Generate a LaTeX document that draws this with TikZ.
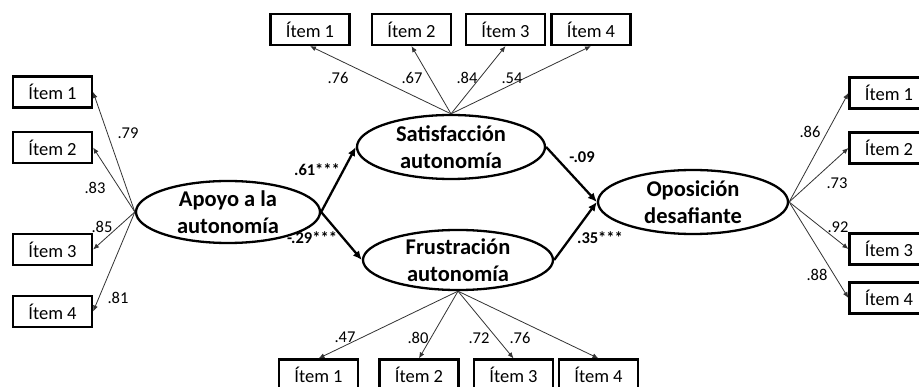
\documentclass[tikz,border=0pt]{standalone}
\usepackage{fontspec}
\setmainfont{Carlito}
\usetikzlibrary{shapes.geometric,arrows.meta}
\begin{document}
\begin{tikzpicture}[x=1pt,y=-1pt,
 itembox/.style={draw,line width=2.2pt,minimum width=79pt,minimum height=31pt,inner sep=0pt,font=\fontsize{18.5}{20}\selectfont},
 latvar/.style={ellipse,draw,line width=2.3pt,inner sep=0pt,align=center,font=\bfseries\fontsize{22.5}{26.5}\selectfont},
 loadarr/.style={draw=black!80,line width=0.8pt,-{Latex[length=6pt,width=5pt]}},
 structarr/.style={line width=2.3pt,-{Latex[length=9pt,width=8pt]}},
 coef/.style={font=\fontsize{16.5}{16.5}\selectfont,inner sep=0pt},
 bcoef/.style={inner sep=0pt,font=\bfseries\fontsize{16.5}{16.5}\selectfont}]
\fill[white] (0,0) rectangle (919,387);
\useasboundingbox (0,0) rectangle (919,387);

% latent variables
\node[latvar,minimum width=184pt,minimum height=62pt] (apoyo) at (228,212) {Apoyo a la\\autonomía};
\node[latvar,minimum width=188pt,minimum height=64pt] (sat) at (451,147) {Satisfacción\\autonomía};
\node[latvar,minimum width=190pt,minimum height=58pt] (fru) at (458,260) {Frustración\\autonomía};
\node[latvar,minimum width=190pt,minimum height=64pt] (opo) at (693,202) {Oposición\\desafiante};

% left items
\node[itembox] (a1) at (52.5,92) {Ítem 1};
\node[itembox] (a2) at (52.5,147.5) {Ítem 2};
\node[itembox] (a3) at (52.5,249.5) {Ítem 3};
\node[itembox] (a4) at (52.5,311.5) {Ítem 4};
% top items
\node[itembox] (s1) at (310,29.5) {Ítem 1};
\node[itembox] (s2) at (411.5,29.5) {Ítem 2};
\node[itembox] (s3) at (505.5,29.5) {Ítem 3};
\node[itembox] (s4) at (591,29.5) {Ítem 4};
% bottom items
\node[itembox] (f1) at (318.5,375) {Ítem 1};
\node[itembox] (f2) at (419,375) {Ítem 2};
\node[itembox] (f3) at (513.5,375) {Ítem 3};
\node[itembox] (f4) at (598.5,375) {Ítem 4};
% right items
\node[itembox] (o1) at (889,93) {Ítem 1};
\node[itembox] (o2) at (889,148) {Ítem 2};
\node[itembox] (o3) at (889,249) {Ítem 3};
\node[itembox] (o4) at (889,298) {Ítem 4};

% loadings
\draw[loadarr] (apoyo.west) -- (a1.east);
\draw[loadarr] (apoyo.west) -- (a2.east);
\draw[loadarr] (apoyo.west) -- (a3.east);
\draw[loadarr] (apoyo.west) -- (a4.east);
\draw[loadarr] (sat.north) -- (s1.south);
\draw[loadarr] (sat.north) -- (s2.south);
\draw[loadarr] (sat.north) -- (s3.south);
\draw[loadarr] (sat.north) -- (s4.south);
\draw[loadarr] (fru.south) -- (f1.north);
\draw[loadarr] (fru.south) -- (f2.north);
\draw[loadarr] (fru.south) -- (f3.north);
\draw[loadarr] (fru.south) -- (f4.north);
\draw[loadarr] (opo.east) -- (o1.west);
\draw[loadarr] (opo.east) -- (o2.west);
\draw[loadarr] (opo.east) -- (o3.west);
\draw[loadarr] (opo.east) -- (o4.west);

% structural paths
\draw[structarr] (apoyo.east) -- (sat.west);
\draw[structarr] (apoyo.east) -- (fru.west);
\draw[structarr] (sat.east) -- (opo.west);
\draw[structarr] (fru.east) -- (opo.west);

% loading labels
\node[coef] (la1) at (128,133) {.79};
\node[coef] (la2) at (95,188) {.83};
\node[coef] (la3) at (102,227) {.85};
\node[coef] (la4) at (118,298) {.81};
\node[coef] (ls1) at (338,78) {.76};
\node[coef] (ls2) at (412,78) {.67};
\node[coef] (ls3) at (467,78) {.84};
\node[coef] (ls4) at (512,78) {.54};
\node[coef] (lf1) at (345,337) {.47};
\node[coef] (lf2) at (418,338) {.80};
\node[coef] (lf3) at (479,338) {.72};
\node[coef] (lf4) at (520,338) {.76};
\node[coef] (lo1) at (810,132) {.86};
\node[coef] (lo2) at (837,183) {.73};
\node[coef] (lo3) at (838,227) {.92};
\node[coef] (lo4) at (817,275) {.88};

% structural labels
\node[bcoef] (b1) at (317,170) {.61***};
\node[bcoef] (b2) at (312,238) {-.29***};
\node[bcoef] (b3) at (582,157) {-.09};
\node[bcoef] (b4) at (600,238) {.35***};
\end{tikzpicture}
\end{document}
